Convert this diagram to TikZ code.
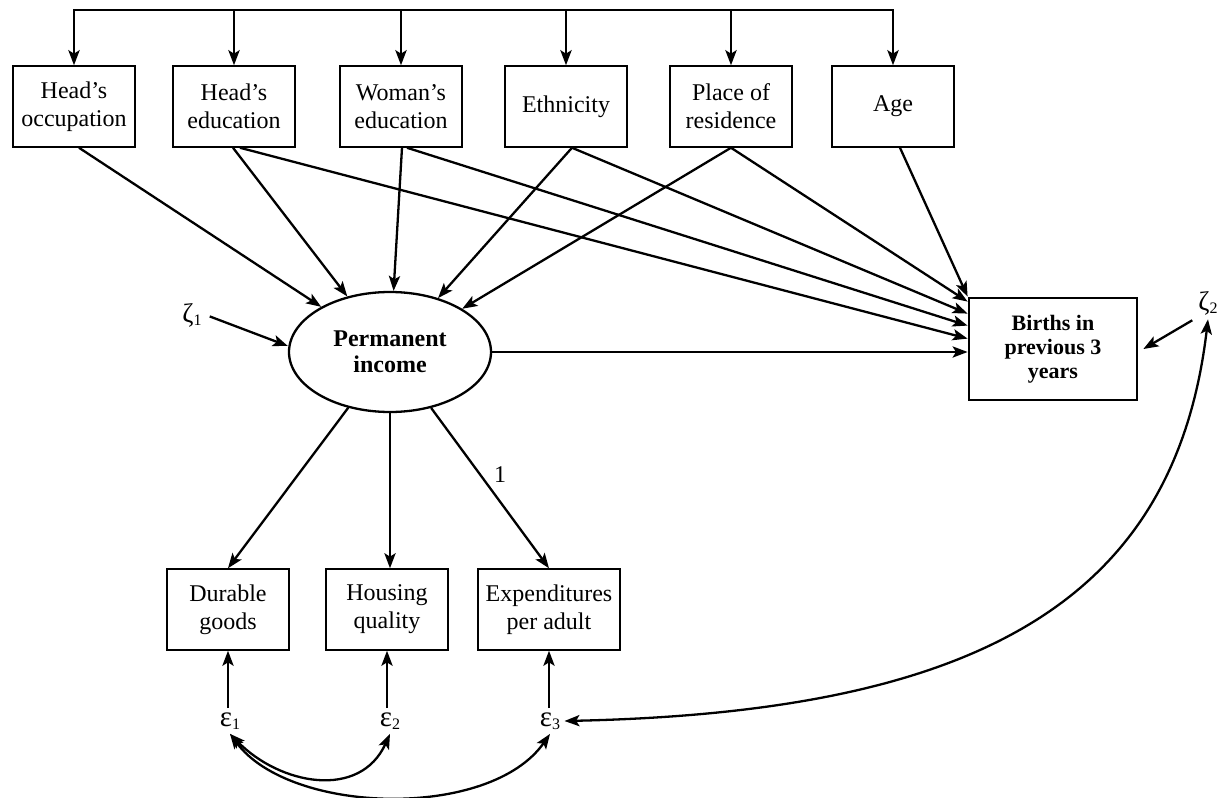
\documentclass[tikz,border=0pt]{standalone}
\usepackage{fontspec}
\setmainfont{Liberation Serif}
\usetikzlibrary{arrows.meta,shapes.geometric,calc}
\newcommand{\greeksub}[3]{{\fontsize{#2}{#2}\selectfont #1}\raisebox{-0.35ex}{\fontsize{8}{8}\selectfont #3}}
\begin{document}
\begin{tikzpicture}[x=0.5pt,y=-0.5pt,
  tipst/.tip={Stealth[length=7.5pt,width=5.6pt,inset=1.7pt]},
  conn/.style={line width=1.15pt,-tipst},
  dconn/.style={line width=1.15pt,tipst-tipst},
  var/.style={draw,line width=0.75pt,minimum width=61pt,minimum height=40.5pt,inner sep=0pt,align=center,font=\fontsize{12}{14}\selectfont},
  latent/.style={draw,line width=1.15pt,ellipse,minimum width=101pt,minimum height=60pt,inner sep=0pt,align=center,font=\bfseries\fontsize{12}{13}\selectfont},
  outcome/.style={draw,line width=1.4pt,minimum width=84pt,minimum height=51pt,inner sep=0pt,align=center,font=\bfseries\fontsize{11}{12}\selectfont},
  err/.style={inner sep=2pt},
  lbl/.style={inner sep=0pt,font=\fontsize{12}{14}\selectfont}
]
\useasboundingbox (0,0) rectangle (1223,798);

% top row
\node[var] (b1) at (74,106.5) {Head's\\occupation};
\node[var] (b2) at (234,106.5) {Head's\\education};
\node[var] (b3) at (401,106.5) {Woman's\\education};
\node[var] (b4) at (566,106.5) {Ethnicity};
\node[var] (b5) at (731,106.5) {Place of\\residence};
\node[var] (b6) at (893,106.5) {Age};

% latent and outcome
\node[latent] (pinc) at (390,352) {Permanent\\income};
\node[outcome] (births) at (1053,349) {Births in\\previous 3\\years};

% indicators
\node[var] (dur) at (228,609.5) {Durable\\goods};
\node[var] (hou) at (387,609.5) {Housing\\quality};
\node[var,minimum width=71pt] (exp) at (549,609.5) {Expenditures\\per adult};

% error terms
\node[err] (z1) at (192,315) {\greeksub{ζ}{13.5}{1}};
\node[err] (z2) at (1208,303) {\greeksub{ζ}{13.5}{2}};
\node[err] (e1) at (230,721) {\greeksub{ε}{14.5}{1}};
\node[err] (e2) at (390,721) {\greeksub{ε}{14.5}{2}};
\node[err] (e3) at (550,721) {\greeksub{ε}{14.5}{3}};
\node[lbl] (one) at (500,475) {1};

% top correlation bar
\coordinate (topl) at (0,10);
\draw[dconn,line width=1.3pt] (b1.north) -- (b1.north |- topl) -- (b6.north |- topl) -- (b6.north);
\foreach \b in {b2,b3,b4,b5}{
  \draw[conn,line width=1.3pt] (\b.north |- topl) -- (\b.north);
}

% paths to permanent income
\draw[conn] ([xshift=2.5pt]b1.south) -- (pinc);
\draw[conn] ([xshift=-0.5pt]b2.south) -- (pinc);
\draw[conn] ([xshift=0.5pt]b3.south) -- (pinc);
\draw[conn] ([xshift=3pt]b4.south) -- (pinc);
\draw[conn] (b5.south) -- (pinc);

% paths to births
\draw[conn] ([xshift=3pt]b2.south) -- ([yshift=-21pt]births.north west);
\draw[conn] ([xshift=3pt]b3.south) -- ([yshift=-14.5pt]births.north west);
\draw[conn] ([xshift=3pt]b4.south) -- ([yshift=-8.5pt]births.north west);
\draw[conn] (b5.south) -- ([yshift=-2.5pt]births.north west);
\draw[conn] ([xshift=3.5pt]b6.south) -- (births.north west);
\draw[conn] (pinc.east) -- (pinc.east -| births.west);

% disturbances
\draw[conn,shorten <=2pt] (z1.east) -- ([yshift=3pt]pinc.west);
\draw[conn,shorten <=1pt] (z2.south west) -- ([xshift=2.5pt]births.east);

% measurement
\draw[conn] (pinc) -- (dur.north);
\draw[conn] (pinc.south) -- (pinc.south |- hou.north);
\draw[conn] (pinc) -- (exp.north);

\draw[conn] (e1.north -| dur.south) -- (dur.south);
\draw[conn] (e2.north -| hou.south) -- (hou.south);
\draw[conn] (e3.north -| exp.south) -- (exp.south);

% correlated errors
\draw[dconn] (e1.south) .. controls (280,785) and (360,800) .. (e2.south);
\draw[dconn] (e1.south) .. controls (290,815) and (490,820) .. (e3.south);
\draw[dconn] (e3.east) .. controls (980,712) and (1175,600) .. (z2.south);
\end{tikzpicture}
\end{document}
